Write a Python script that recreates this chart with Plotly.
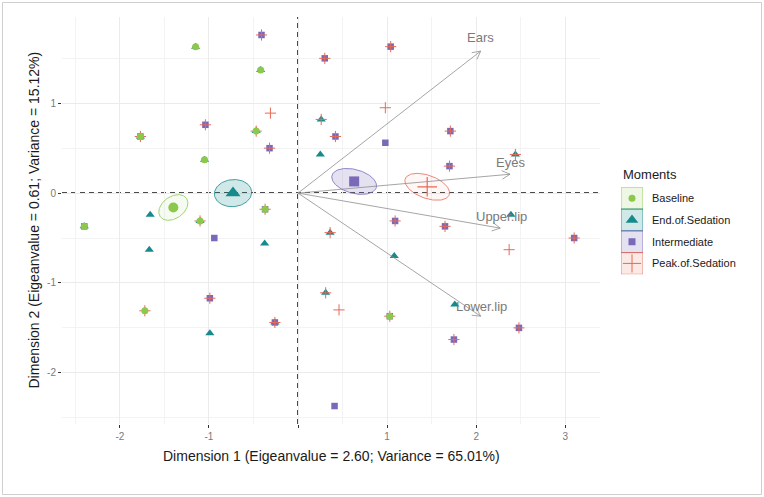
import numpy as np
import plotly.graph_objects as go

# ---------------- data ----------------
groups = ["Baseline", "End.of.Sedation", "Intermediate", "Peak.of.Sedation"]

baseline_x = [-1.15, -0.42, -1.77, -0.47, -1.05, -0.37, -2.40, -1.10, -1.72, 1.03]
baseline_y = [1.63, 1.37, 0.63, 0.69, 0.37, -0.18, -0.37, -0.31, -1.31, -1.37]

end_x = [-1.15, -0.42, -1.77, -0.47, -1.05, -1.66, -2.40, -1.10, -1.67, -0.375,
         -0.26, -0.99, 0.26, 0.25, 2.44, 2.39, 0.36, 1.08, 0.31, 1.76]
end_y = [1.63, 1.37, 0.63, 0.69, 0.37, -0.24, -0.37, -0.31, -0.63, -0.56,
         -1.44, -1.56, 0.82, 0.43, 0.43, -0.24, -0.44, -0.70, -1.11, -1.24]

inter_x = [-0.41, -1.04, -1.77, -0.32, -0.37, -2.40, -0.94, -0.99, -0.26, 1.04,
           0.30, 0.42, 0.98, 1.71, 1.70, 1.09, 1.65, 3.10, 1.03, 2.48, 1.75, 0.41]
inter_y = [1.76, 0.76, 0.63, 0.50, -0.18, -0.37, -0.50, -1.17, -1.44, 1.63,
           1.50, 0.63, 0.56, 0.69, 0.30, -0.31, -0.37, -0.50, -1.37, -1.50, -1.63, -2.37]

peak_x = [-0.41, -0.31, -1.04, -1.77, -0.47, -0.32, -0.37, -1.10, -0.99, -1.72,
          -0.26, 1.04, 0.30, 0.98, 0.26, 0.42, 1.71, 2.44, 1.70, 1.09,
          1.65, 0.36, 3.10, 2.37, 0.31, 0.46, 1.03, 2.48, 1.75]
peak_y = [1.76, 0.89, 0.76, 0.63, 0.69, 0.50, -0.18, -0.31, -1.17, -1.31,
          -1.44, 1.63, 1.50, 0.95, 0.82, 0.63, 0.69, 0.43, 0.30, -0.31,
          -0.37, -0.44, -0.50, -0.63, -1.11, -1.30, -1.37, -1.50, -1.63]

centroid_x = [-1.40, -0.73, 0.63, 1.45]
centroid_y = [-0.16, 0.00, 0.13, 0.07]
ellipse_a = [0.18, 0.21, 0.258, 0.263]
ellipse_b = [0.123, 0.152, 0.134, 0.129]
ellipse_angle = [35, 5, -15, -20]

var_names = ["Ears", "Eyes", "Upper.lip", "Lower.lip"]
var_x = [2.05, 2.38, 2.27, 2.05]
var_y = [1.58, 0.21, -0.39, -1.37]
var_label_x = [2.05, 2.39, 2.28, 2.06]
var_label_y = [1.73, 0.34, -0.26, -1.26]

x_tickvals = [-2, -1, 0, 1, 2, 3]
x_ticktext = ["-2", "-1", "", "1", "2", "3"]
y_tickvals = [-2, -1, 0, 1]
y_ticktext = ["-2", "-1", "0", "1"]

x_title = "Dimension 1 (Eigeanvalue = 2.60; Variance = 65.01%)"
y_title = "Dimension 2 (Eigeanvalue = 0.61; Variance = 15.12%)"

# ---------------- style ----------------
W, H = 764, 497
PL, PR, PT, PB = 62, 600, 17, 424
XR = [-2.65, 3.39]
YR = [-2.57, 1.96]
sx = (PR - PL) / (XR[1] - XR[0])
sy = (PB - PT) / (YR[1] - YR[0])

col = ["#8CC84B", "#178A8C", "#7A68B9", "#E66A55"]
ell_fill = ["rgba(140,200,75,0.08)", "rgba(23,138,140,0.2)",
            "rgba(122,104,185,0.2)", "rgba(230,106,85,0.05)"]
key_fill = ["rgba(140,200,75,0.15)", "rgba(23,138,140,0.2)",
            "rgba(122,104,185,0.2)", "rgba(230,106,85,0.15)"]
sym = ["circle", "triangle-up", "square", "cross-thin"]
pt_size = [7, 8, 6.5, 8]
cen_size = [10, 13, 10, 14]

FONT = "Liberation Sans, Arial, sans-serif"

fig = go.Figure()

# ellipses
t = np.linspace(0, 2 * np.pi, 120)
for i in range(4):
    th = np.deg2rad(ellipse_angle[i])
    ex = ellipse_a[i] * np.cos(t)
    ey = ellipse_b[i] * np.sin(t)
    px = ex * sx
    py = ey * sx
    rx = px * np.cos(th) - py * np.sin(th)
    ry = px * np.sin(th) + py * np.cos(th)
    fig.add_trace(go.Scatter(
        x=centroid_x[i] + rx / sx, y=centroid_y[i] + ry / sy,
        mode="lines", fill="toself", fillcolor=ell_fill[i],
        line=dict(color=col[i], width=0.8), hoverinfo="skip", showlegend=False))

# individual points (draw order: End, Intermediate, Peak, Baseline)
series = {0: (baseline_x, baseline_y), 1: (end_x, end_y),
          2: (inter_x, inter_y), 3: (peak_x, peak_y)}
for i in [1, 2, 3, 0]:
    xs, ys = series[i]
    if sym[i] == "cross-thin":
        mk = dict(symbol=sym[i], size=pt_size[i], color=col[i],
                  line=dict(color=col[i], width=1))
    else:
        mk = dict(symbol=sym[i], size=pt_size[i], color=col[i], line=dict(width=0))
    fig.add_trace(go.Scatter(x=xs, y=ys, mode="markers", marker=mk,
                             name=groups[i], showlegend=False))

# centroids
for i in range(4):
    if sym[i] == "cross-thin":
        mk = dict(symbol=sym[i], size=cen_size[i], color=col[i],
                  line=dict(color=col[i], width=1.2))
    else:
        mk = dict(symbol=sym[i], size=cen_size[i], color=col[i], line=dict(width=0))
    fig.add_trace(go.Scatter(x=[centroid_x[i]], y=[centroid_y[i]], mode="markers",
                             marker=mk, showlegend=False, hoverinfo="skip"))

# variable arrows with open heads
ax_, ay_ = [], []
head_len = 9.0
head_ang = np.deg2rad(28)
for vx, vy in zip(var_x, var_y):
    ax_ += [0, vx, None]
    ay_ += [0, vy, None]
    dxp, dyp = vx * sx, vy * sy
    n = np.hypot(dxp, dyp)
    ux, uy = dxp / n, dyp / n
    for s in (1, -1):
        c, si = np.cos(s * head_ang), np.sin(s * head_ang)
        hx = ux * c - uy * si
        hy = ux * si + uy * c
        ax_ += [vx, vx - head_len * hx / sx, None]
        ay_ += [vy, vy - head_len * hy / sy, None]
fig.add_trace(go.Scatter(x=ax_, y=ay_, mode="lines",
                         line=dict(color="#8E8E8E", width=0.8),
                         hoverinfo="skip", showlegend=False))

annotations = []
for nm, lx, ly in zip(var_names, var_label_x, var_label_y):
    annotations.append(dict(x=lx, y=ly, xref="x", yref="y", text=nm, showarrow=False,
                            font=dict(family=FONT, size=13, color="#7A7A7A")))

# legend markers on a helper axis
fig.add_trace(go.Scatter(x=[0.5], y=[3.5], xaxis="x2", yaxis="y2", mode="markers",
                         marker=dict(symbol="circle", size=7, color=col[0]),
                         showlegend=False, hoverinfo="skip"))
fig.add_trace(go.Scatter(x=[0.5], y=[2.5], xaxis="x2", yaxis="y2", mode="markers",
                         marker=dict(symbol="triangle-up", size=11, color=col[1]),
                         showlegend=False, hoverinfo="skip"))
fig.add_trace(go.Scatter(x=[0.5], y=[1.5], xaxis="x2", yaxis="y2", mode="markers",
                         marker=dict(symbol="square", size=7, color=col[2]),
                         showlegend=False, hoverinfo="skip"))
fig.add_trace(go.Scatter(x=[0.5], y=[0.5], xaxis="x2", yaxis="y2", mode="markers",
                         marker=dict(symbol="cross-thin", size=13, color=col[3],
                                     line=dict(color=col[3], width=1)),
                         showlegend=False, hoverinfo="skip"))

shapes = []
# outer border
shapes.append(dict(type="rect", xref="paper", yref="paper",
                   x0=2.5 / W, x1=761.5 / W, y0=1 - 494.5 / H, y1=1 - 2.5 / H,
                   line=dict(color="#CFCFCF", width=1), fillcolor="rgba(0,0,0,0)"))
# dashed reference lines
shapes.append(dict(type="line", xref="x", yref="y domain", x0=0, x1=0, y0=0, y1=1,
                   line=dict(color="#111111", width=1.6, dash="5px,4px"), layer="below"))
shapes.append(dict(type="line", xref="x domain", yref="y", x0=0, x1=1, y0=0, y1=0,
                   line=dict(color="#111111", width=1.6, dash="5px,4px"), layer="below"))
# legend key boxes
for i in range(4):
    shapes.append(dict(type="rect", xref="x2", yref="y2", x0=0, x1=1,
                       y0=3 - i, y1=4 - i, line=dict(color=col[i], width=0.8),
                       fillcolor=key_fill[i], layer="below"))

# legend texts
leg_top, leg_bot = 187.3, 274.3
row_h = (leg_bot - leg_top) / 4
annotations.append(dict(x=621 / W, y=1 - 174 / H, xref="paper", yref="paper",
                        text="Moments", showarrow=False, xanchor="left", yanchor="middle",
                        font=dict(family=FONT, size=13, color="#1A1A1A")))
for i in range(4):
    yc = leg_top + row_h * (i + 0.5)
    annotations.append(dict(x=650 / W, y=1 - yc / H, xref="paper", yref="paper",
                            text=groups[i], showarrow=False, xanchor="left",
                            yanchor="middle",
                            font=dict(family=FONT, size=11, color="#1A1A1A")))

# axis titles
annotations.append(dict(x=(PL + PR) / 2 / W, y=1 - 456 / H, xref="paper", yref="paper",
                        text=x_title, showarrow=False, xanchor="center", yanchor="middle",
                        font=dict(family=FONT, size=14, color="#1A1A1A")))
annotations.append(dict(x=33 / W, y=1 - (PT + PB) / 2 / H, xref="paper", yref="paper",
                        text=y_title, showarrow=False, textangle=-90,
                        xanchor="center", yanchor="middle",
                        font=dict(family=FONT, size=14, color="#1A1A1A")))

axis_common = dict(showgrid=True, gridcolor="#EBEBEB", gridwidth=1, zeroline=False,
                   showline=False, ticks="outside", ticklen=3, tickwidth=1,
                   tickcolor="#333333", tickfont=dict(family=FONT, size=10, color="#7A7A7A"),
                   tickmode="array")

fig.update_layout(
    width=W, height=H,
    margin=dict(l=0, r=0, t=0, b=0),
    paper_bgcolor="white", plot_bgcolor="rgba(0,0,0,0)",
    showlegend=False,
    xaxis=dict(domain=[PL / W, PR / W], range=XR, tickvals=x_tickvals,
               ticktext=x_ticktext,
               minor=dict(tickvals=[-2.5, -1.5, -0.5, 0.5, 1.5, 2.5], showgrid=True,
                          gridcolor="#F3F3F3", gridwidth=0.7),
               anchor="y", **axis_common),
    yaxis=dict(domain=[1 - PB / H, 1 - PT / H], range=YR, tickvals=y_tickvals,
               ticktext=y_ticktext,
               minor=dict(tickvals=[-2.5, -1.5, -0.5, 0.5, 1.5], showgrid=True,
                          gridcolor="#F3F3F3", gridwidth=0.7),
               anchor="x", **axis_common),
    xaxis2=dict(domain=[621 / W, 643 / W], range=[0, 1], visible=False,
                anchor="y2", fixedrange=True),
    yaxis2=dict(domain=[1 - leg_bot / H, 1 - leg_top / H], range=[0, 4], visible=False,
                anchor="x2", fixedrange=True),
    shapes=shapes,
    annotations=annotations,
    font=dict(family=FONT),
)

fig.write_html(
    "out.html",
    config={"displayModeBar": False},
    post_script="document.body.style.margin='0';document.body.style.overflow='hidden';",
)
